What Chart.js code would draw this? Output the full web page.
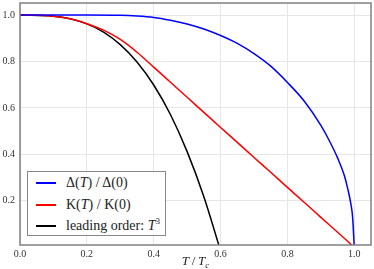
<!DOCTYPE html>
<html>
<head>
<meta charset="utf-8">
<script src="https://cdn.jsdelivr.net/npm/chart.js@4.4.1/dist/chart.umd.min.js"></script>
<style>
  html, body { margin: 0; padding: 0; background: #fff; }
  #wrap { position: relative; width: 374px; height: 269px; }
  canvas { position: absolute; left: 0; top: 0; }
  .serif { font-family: "Liberation Serif", "DejaVu Serif", serif; color: #222; }
  #legend { position: absolute; left: 27px; top: 171px; width: 139px; height: 65px;
            border: 1.3px solid #888; background: #fff; box-sizing: border-box; }
  .row { position: absolute; left: 0; height: 20px; line-height: 20px; font-size: 14px; white-space: nowrap; }
  .sw { position: absolute; left: 8px; top: 9px; width: 20px; height: 2px; }
  .lab { position: absolute; left: 38px; top: 0; }
  sup { font-size: 9px; vertical-align: 0; position: relative; top: -6px; line-height: 0; }
  sub { font-size: 9px; vertical-align: 0; position: relative; top: 3px; line-height: 0; }
  #xtitle { position: absolute; top: 253px; left: 0; width: 374px; text-align: center; font-size: 13px; padding-left: 17px; box-sizing: border-box; line-height: 15px; }
</style>
</head>
<body>
<div id="wrap">
  <canvas id="c" width="374" height="269"></canvas>
  <div id="legend" class="serif">
    <div class="row" style="top:0.5px"><div class="sw" style="background:#0000ff"></div><div class="lab">Δ(<i>T</i>) / Δ(0)</div></div>
    <div class="row" style="top:22.5px"><div class="sw" style="background:#ff0000"></div><div class="lab">K(<i>T</i>) / K(0)</div></div>
    <div class="row" style="top:43.5px"><div class="sw" style="background:#000000"></div><div class="lab">leading order: <i>T</i><sup>3</sup></div></div>
  </div>
  <div id="xtitle" class="serif"><i>T</i>&#8201;/&#8201;<i>T<sub>c</sub></i></div>
</div>
<script>
// Δ(T)/Δ(0)
const gapT   = [0, 0.1, 0.2, 0.3, 0.35, 0.4, 0.45, 0.5, 0.55, 0.6, 0.65, 0.7, 0.75, 0.8, 0.85, 0.9, 0.925, 0.95, 0.97, 0.98, 0.99, 0.995, 1.0];
const gapV   = [1, 1, 1, 0.999, 0.996, 0.99, 0.978, 0.962, 0.94, 0.912, 0.878, 0.834, 0.78, 0.71, 0.63, 0.525, 0.46, 0.385, 0.31, 0.255, 0.185, 0.13, 0];
// K(T)/K(0)
const kT     = [0, 0.05, 0.1, 0.15, 0.2, 0.25, 0.3, 0.35, 0.4, 0.45, 0.5, 0.55, 0.6, 0.65, 0.7, 0.75, 0.8, 0.85, 0.9, 0.95, 1.0];
const kV     = [1, 0.999, 0.995, 0.984, 0.963, 0.935, 0.895, 0.84, 0.776, 0.711, 0.646, 0.581, 0.516, 0.452, 0.387, 0.323, 0.258, 0.194, 0.129, 0.065, 0];
// leading order T^3
const lT     = [0, 0.1, 0.15, 0.2, 0.25, 0.3, 0.35, 0.4, 0.45, 0.5, 0.55, 0.6];
const lV     = [1, 0.995, 0.984, 0.962, 0.927, 0.873, 0.798, 0.699, 0.572, 0.412, 0.218, -0.015];
// ticks
const xTicks = [0, 0.2, 0.4, 0.6, 0.8, 1.0];
const yTicks = [0.2, 0.4, 0.6, 0.8, 1.0];

const pts = (xs, ys) => xs.map((x, i) => ({x: x, y: ys[i]}));

const frame = {
  id: 'frame',
  afterDraw(chart) {
    const a = chart.chartArea, ctx = chart.ctx;
    ctx.save();
    ctx.strokeStyle = '#808080';
    ctx.lineWidth = 1.5;
    ctx.strokeRect(a.left, a.top, a.right - a.left, a.bottom - a.top);
    ctx.restore();
  }
};

const tickFont = { family: '"Liberation Serif", "DejaVu Serif", serif', size: 10 };

new Chart(document.getElementById('c'), {
  type: 'line',
  data: {
    datasets: [
      { data: pts(gapT, gapV), borderColor: '#0000ff', borderWidth: 1.5, pointRadius: 0, cubicInterpolationMode: 'monotone' },
      { data: pts(kT, kV), borderColor: '#ff0000', borderWidth: 1.5, pointRadius: 0, cubicInterpolationMode: 'monotone' },
      { data: pts(lT, lV), borderColor: '#000000', borderWidth: 1.5, pointRadius: 0, cubicInterpolationMode: 'monotone' }
    ]
  },
  options: {
    responsive: false,
    animation: false,
    layout: { padding: { top: 3, right: 3, left: 0, bottom: 0 } },
    plugins: { legend: { display: false }, tooltip: { enabled: false } },
    scales: {
      x: {
        type: 'linear', min: 0, max: 1.05,
        afterBuildTicks: s => { s.ticks = xTicks.map(v => ({value: v})); },
        afterFit: s => { s.height = 24; s.paddingRight = 0; },
        ticks: { font: tickFont, color: '#333', padding: 3, maxRotation: 0, callback: v => v.toFixed(1) },
        grid: { color: '#e6e6e6', drawTicks: false },
        border: { display: false }
      },
      y: {
        type: 'linear', min: 0.01, max: 1.052,
        afterBuildTicks: s => { s.ticks = yTicks.map(v => ({value: v})); },
        afterFit: s => { s.width = 20; s.paddingTop = 0; s.paddingBottom = 0; },
        ticks: { font: tickFont, color: '#333', padding: 5, callback: v => v.toFixed(1) },
        grid: { color: '#e6e6e6', drawTicks: false },
        border: { display: false }
      }
    }
  },
  plugins: [frame]
});
</script>
</body>
</html>
